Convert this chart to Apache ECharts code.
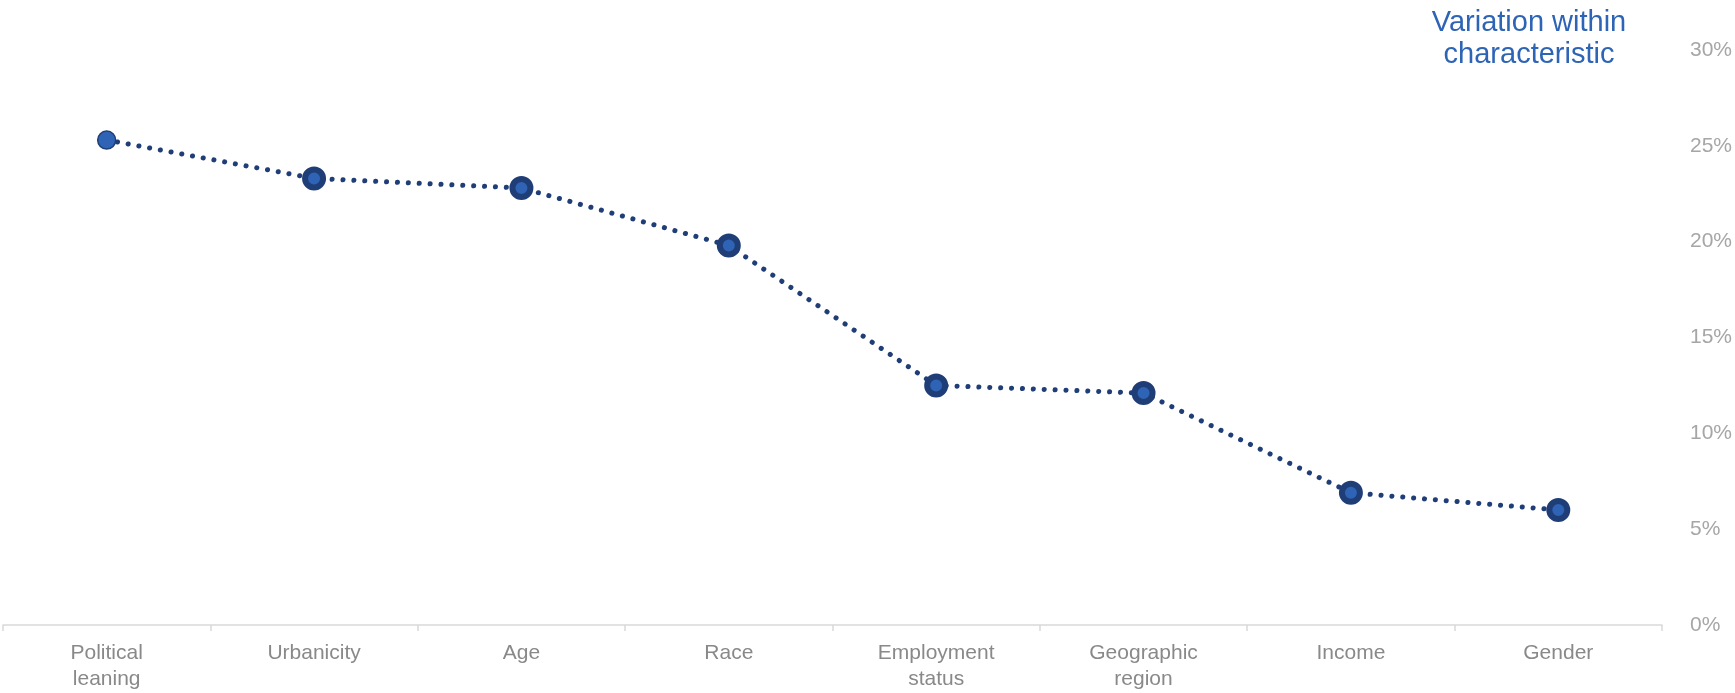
<!DOCTYPE html>
<html>
<head>
<meta charset="utf-8">
<style>
  html, body { margin: 0; padding: 0; background: #ffffff; }
  #chart { width: 1735px; height: 693px; }
</style>
<script src="https://cdn.jsdelivr.net/npm/echarts@6/dist/echarts.min.js"></script>
</head>
<body>
<div id="chart"></div>
<script>
// Share of variation explained within each respondent characteristic
const categories = [
  'Political\nleaning', 'Urbanicity', 'Age', 'Race',
  'Employment\nstatus', 'Geographic\nregion', 'Income', 'Gender'
];
const variation = [25.3, 23.3, 22.8, 19.8, 12.5, 12.1, 6.9, 6.0];
const yTicks = [0, 5, 10, 15, 20, 25, 30];

const chart = echarts.init(document.getElementById('chart'), null, { renderer: 'canvas' });

const lineColor = '#1F3E77';
const markerFill = '#2E63B5';

// First marker is drawn plain; the rest get a heavy dark ring
const seriesData = variation.map((v, i) => ({
  value: v,
  symbolSize: 18,
  itemStyle: {
    color: markerFill,
    borderColor: lineColor,
    borderWidth: i === 0 ? 1.5 : 6
  }
}));

chart.setOption({
  animation: false,
  grid: { left: 3, right: 73, top: 50, bottom: 68, containLabel: false },
  title: {
    text: 'Variation within\ncharacteristic',
    left: 1524,
    top: 2,
    textAlign: 'center',
    textStyle: {
      color: '#2E64B6',
      fontFamily: 'Liberation Sans, Arial, sans-serif',
      fontWeight: 'normal',
      fontSize: 29,
      lineHeight: 32
    }
  },
  xAxis: {
    type: 'category',
    data: categories,
    boundaryGap: true,
    axisLine: { show: true, lineStyle: { color: '#D9D9D9', width: 1.5 } },
    axisTick: { show: true, length: 6, lineStyle: { color: '#D9D9D9', width: 1.5 } },
    axisLabel: {
      color: '#898989',
      fontFamily: 'Liberation Sans, Arial, sans-serif',
      fontSize: 21,
      lineHeight: 26,
      margin: 15
    },
    splitLine: { show: false }
  },
  yAxis: {
    type: 'value',
    position: 'right',
    min: yTicks[0],
    max: yTicks[yTicks.length - 1],
    interval: 5,
    axisLine: { show: false },
    axisTick: { show: false },
    splitLine: { show: false },
    axisLabel: {
      color: '#A6A6A6',
      fontFamily: 'Liberation Sans, Arial, sans-serif',
      fontSize: 21,
      margin: 28,
      formatter: v => v + '%'
    }
  },
  series: [{
    type: 'line',
    data: seriesData,
    symbol: 'circle',
    lineStyle: { color: lineColor, width: 5, type: [0.1, 10.8], cap: 'round' },
    itemStyle: { color: markerFill },
    z: 3
  }]
});
</script>
</body>
</html>
